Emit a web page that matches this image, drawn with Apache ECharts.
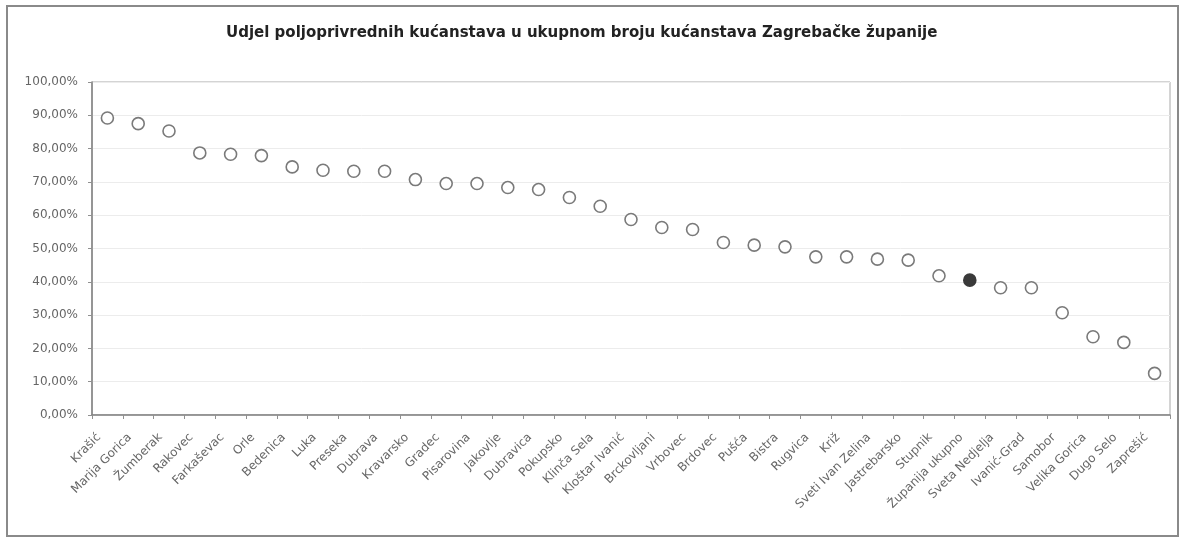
<!DOCTYPE html>
<html>
<head>
<meta charset="utf-8">
<script src="https://cdn.jsdelivr.net/npm/echarts@6/dist/echarts.min.js"></script>
<style>
  html, body { margin: 0; padding: 0; background: #fff; }
  #chart { width: 1183px; height: 539px; }
</style>
</head>
<body>
<div id="chart"></div>
<script>
const titleText = 'Udjel poljoprivrednih kućanstava u ukupnom broju kućanstava Zagrebačke županije';
const categories = [
  'Krašić', 'Marija Gorica', 'Žumberak', 'Rakovec', 'Farkaševac', 'Orle', 'Bedenica',
  'Luka', 'Preseka', 'Dubrava', 'Kravarsko', 'Gradec', 'Pisarovina', 'Jakovlje',
  'Dubravica', 'Pokupsko', 'Klinča Sela', 'Kloštar Ivanić', 'Brckovljani', 'Vrbovec',
  'Brdovec', 'Pušća', 'Bistra', 'Rugvica', 'Križ', 'Sveti Ivan Zelina', 'Jastrebarsko',
  'Stupnik', 'Županija ukupno', 'Sveta Nedjelja', 'Ivanić-Grad', 'Samobor',
  'Velika Gorica', 'Dugo Selo', 'Zaprešić'
];
const shares = [
  0.892, 0.875, 0.853, 0.787, 0.783, 0.779, 0.745,
  0.735, 0.732, 0.732, 0.707, 0.695, 0.695, 0.683,
  0.677, 0.653, 0.627, 0.587, 0.563, 0.557,
  0.518, 0.510, 0.505, 0.475, 0.475, 0.468, 0.465,
  0.418, 0.405, 0.382, 0.382, 0.307,
  0.235, 0.218, 0.125
];
const highlightName = 'Županija ukupno';
const yTicks = { min: 0, max: 1, interval: 0.1 };

const chart = echarts.init(document.getElementById('chart'));
const seriesData = categories.map((c, i) => {
  const d = { value: shares[i] };
  if (c === highlightName) {
    d.itemStyle = { color: '#3a3a3a', borderColor: '#3a3a3a' };
  }
  return d;
});

const labelFont = 'DejaVu Sans, Verdana, sans-serif';

chart.setOption({
  animation: false,
  backgroundColor: '#fff',
  title: {
    text: titleText,
    left: 221,
    top: 21,
    textStyle: { fontFamily: labelFont, fontSize: 15, fontWeight: 'bold', color: '#222' }
  },
  graphic: [{
    type: 'rect',
    shape: { x: 7, y: 6, width: 1171, height: 530 },
    style: { fill: 'none', stroke: '#8a8a8a', lineWidth: 2 },
    silent: true
  }],
  grid: {
    left: 92, right: 13, top: 82, bottom: 124,
    show: true, borderColor: '#a8a8a8', borderWidth: 1, backgroundColor: 'transparent'
  },
  xAxis: {
    type: 'category',
    data: categories,
    boundaryGap: true,
    axisLine: { lineStyle: { color: '#808080', width: 1.5 } },
    axisTick: { show: true, length: 4, inside: false, lineStyle: { color: '#909090' } },
    axisLabel: {
      interval: 0, rotate: 45, margin: 12, padding: [0, 12, 0, 0],
      fontFamily: labelFont, fontSize: 12, color: '#666'
    },
    splitLine: { show: false }
  },
  yAxis: {
    type: 'value',
    min: yTicks.min, max: yTicks.max, interval: yTicks.interval,
    axisLine: { show: true, lineStyle: { color: '#808080', width: 1.5 } },
    axisTick: { show: true, length: 4, lineStyle: { color: '#909090' } },
    axisLabel: {
      margin: 14,
      fontFamily: labelFont, fontSize: 12, color: '#666',
      formatter: v => (v * 100).toFixed(2).replace('.', ',') + '%'
    },
    splitLine: { show: true, lineStyle: { color: '#ececec', width: 1 } }
  },
  series: [{
    type: 'scatter',
    data: seriesData,
    symbol: 'circle',
    symbolSize: 12,
    itemStyle: { color: '#fff', borderColor: '#7a7a7a', borderWidth: 1.6, opacity: 1 }
  }]
});
</script>
</body>
</html>
